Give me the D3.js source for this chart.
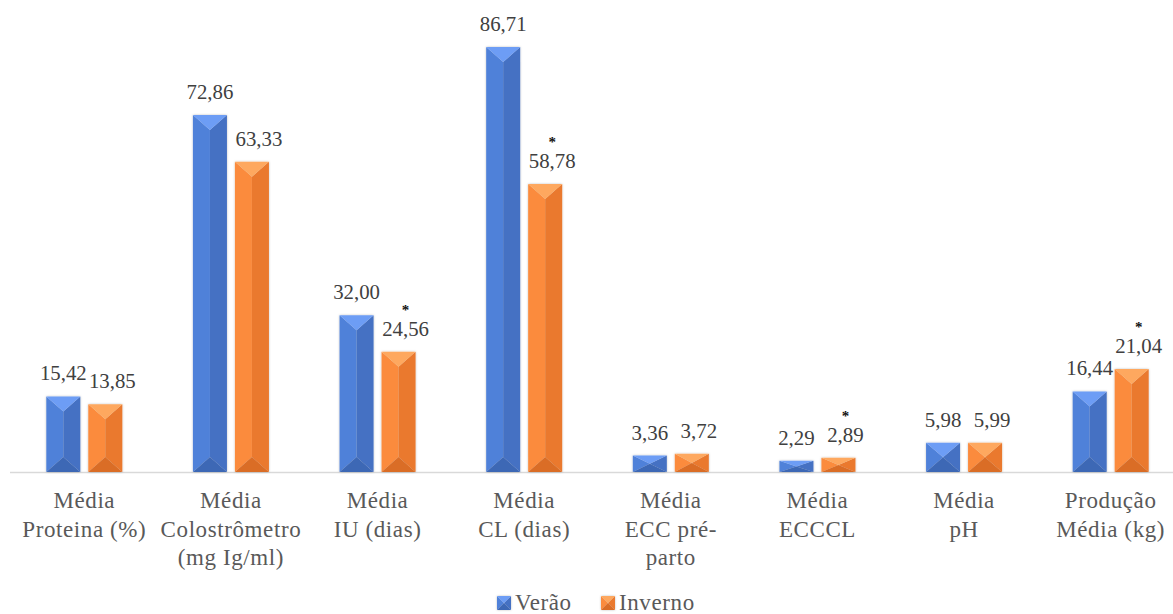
<!DOCTYPE html>
<html>
<head>
<meta charset="utf-8">
<script src="https://cdn.jsdelivr.net/npm/d3@7/dist/d3.min.js"></script>
<style>
  @font-face { font-family: "ChartSerif"; src: local("Liberation Serif"), local("LiberationSerif"), local("Times New Roman"), local("Tinos"); }
  .serif { font-family: "Times New Roman"; }
</style>
</head>
<body style="margin:0">
<svg id="s" width="1173" height="614"></svg>
<script>
// ---- data ----
const categories = [
  ["Média", "Proteina (%)"],
  ["Média", "Colostrômetro", "(mg Ig/ml)"],
  ["Média", "IU (dias)"],
  ["Média", "CL (dias)"],
  ["Média", "ECC pré-", "parto"],
  ["Média", "ECCCL"],
  ["Média", "pH"],
  ["Produção", "Média (kg)"]
];
const seriesNames = ["Verão", "Inverno"];
const verao   = [15.42, 72.86, 32.00, 86.71, 3.36, 2.29, 5.98, 16.44];
const inverno = [13.85, 63.33, 24.56, 58.78, 3.72, 2.89, 5.99, 21.04];
const invernoSignificant = [false, false, true, true, false, true, false, true];

// ---- styles ----
const W = 1173, H = 614;
const baseY = 472;
const palettes = {
  "Verão":   { top: "#6d9df5", left: "#4f81d9", right: "#4471c3", bottom: "#3e68b5" },
  "Inverno": { top: "#fea85e", left: "#fb8b3c", right: "#ea792e", bottom: "#da6d26" }
};
const labelDx = { "Verão": 0, "Inverno": 7 };

const svg = d3.select("#s");

const defs = svg.append("defs");
const f = defs.append("filter").attr("id", "sh").attr("x", "-20%").attr("y", "-20%").attr("width", "140%").attr("height", "140%");
f.append("feDropShadow").attr("dx", 0).attr("dy", 0).attr("stdDeviation", 1.2)
  .attr("flood-color", "#000").attr("flood-opacity", 0.25);

const x0 = d3.scaleBand().domain(d3.range(categories.length)).range([11, 1184]).padding(0);
const groupW = 76;
const x1 = d3.scaleBand().domain(seriesNames).range([0, groupW]).paddingInner(0.19).paddingOuter(0);
const y = d3.scaleLinear().domain([0, 90]).range([baseY, baseY - 441]);

svg.append("line")
  .attr("x1", 10).attr("x2", W).attr("y1", baseY + 0.5).attr("y2", baseY + 0.5)
  .attr("stroke", "#d9d9d9").attr("stroke-width", 1.5);

function bevelBar(g, xL, w, yT, yB, pal) {
  const xR = xL + w, cx = xL + w / 2;
  const h = yB - yT;
  const d = Math.min(15, h / 2);
  const gg = g.append("g").attr("filter", "url(#sh)");
  const poly = pts => pts.map(p => p.join(",")).join(" ");
  gg.append("polygon").attr("points", poly([[xL, yT], [cx, yT + d], [cx, yB - d], [xL, yB]])).attr("fill", pal.left);
  gg.append("polygon").attr("points", poly([[xR, yT], [cx, yT + d], [cx, yB - d], [xR, yB]])).attr("fill", pal.right);
  gg.append("polygon").attr("points", poly([[xL, yT], [xR, yT], [cx, yT + d]])).attr("fill", pal.top);
  gg.append("polygon").attr("points", poly([[xL, yB], [xR, yB], [cx, yB - d]])).attr("fill", pal.bottom);
}

const seriesData = { "Verão": verao, "Inverno": inverno };
const barsG = svg.append("g");

categories.forEach((cat, i) => {
  const gx = x0(i) + x0.bandwidth() / 2 - groupW / 2;
  seriesNames.forEach(s => {
    const v = seriesData[s][i];
    const bx = gx + x1(s);
    const bw = x1.bandwidth();
    bevelBar(barsG, bx, bw, y(v), y(0), palettes[s]);
    const lx = bx + bw / 2 + labelDx[s];
    const ly = y(v) - 16;
    const str = v.toFixed(2).replace(".", ",");
    const nDigits = str.replace(",", "").length;
    svg.append("text")
      .attr("class", "serif")
      .attr("x", lx).attr("y", ly)
      .attr("text-anchor", "middle")
      .attr("font-size", 22)
      .attr("fill", "#404040")
      .attr("textLength", nDigits * 10.2 + 6)
      .attr("lengthAdjust", "spacingAndGlyphs")
      .text(str);
    if (s === "Inverno" && invernoSignificant[i]) {
      svg.append("text")
        .attr("x", lx).attr("y", ly - 21)
        .attr("text-anchor", "middle")
        .attr("font-weight", "bold")
        .attr("font-size", 15)
        .attr("fill", "#111")
        .text("*");
    }
  });
  const cx = x0(i) + x0.bandwidth() / 2;
  cat.forEach((line, k) => {
    svg.append("text")
      .attr("class", "serif")
      .attr("x", cx).attr("y", 508 + k * 28.5)
      .attr("text-anchor", "middle")
      .attr("font-size", 23)
      .attr("letter-spacing", 0.6)
      .attr("fill", "#595959")
      .text(line);
  });
});

const legItems = [
  { name: "Verão", icon: 497, text: 515 },
  { name: "Inverno", icon: 601, text: 619 }
];
legItems.forEach(it => {
  bevelBar(svg, it.icon, 14, 596, 610, palettes[it.name]);
  svg.append("text")
    .attr("class", "serif")
    .attr("x", it.text).attr("y", 610)
    .attr("font-size", 23)
    .attr("letter-spacing", 0.6)
    .attr("fill", "#595959")
    .text(it.name);
});
</script>
</body>
</html>
